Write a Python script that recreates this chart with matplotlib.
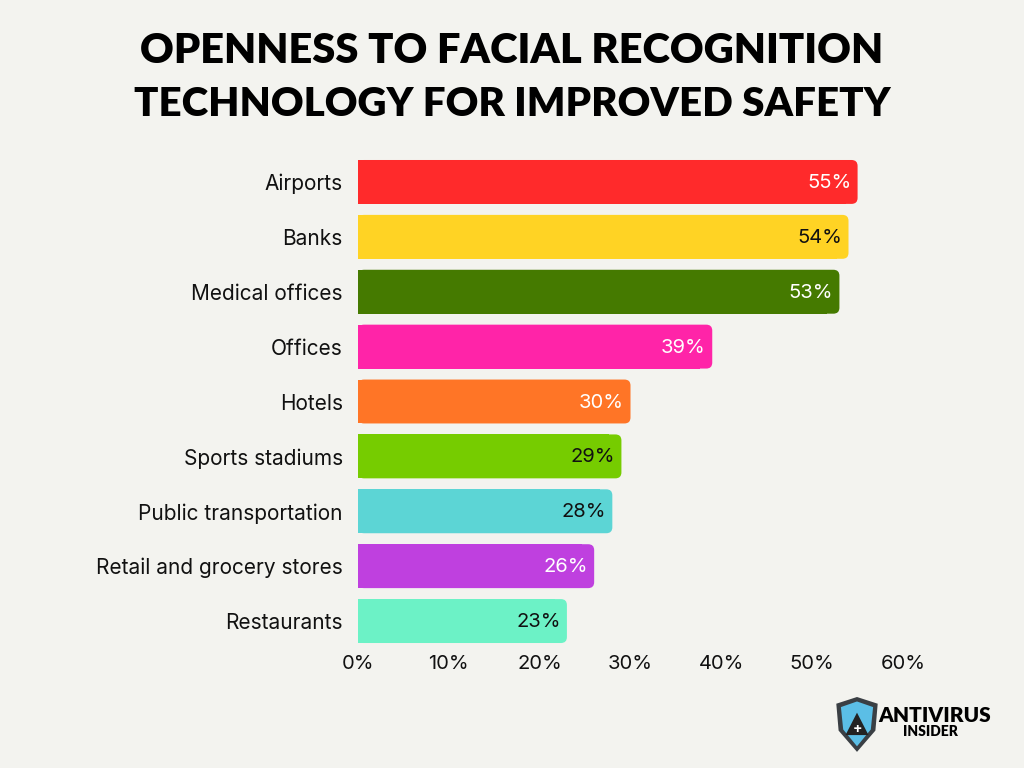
import matplotlib.pyplot as plt
from matplotlib.patches import FancyBboxPatch, Rectangle, Polygon

# data
categories = ['Airports', 'Banks', 'Medical offices', 'Offices', 'Hotels',
              'Sports stadiums', 'Public transportation',
              'Retail and grocery stores', 'Restaurants']
values = [55, 54, 53, 39, 30, 29, 28, 26, 23]
colors = ['#FF2A2B', '#FFD324', '#457A00', '#FF24A8', '#FF7526',
          '#76CC00', '#5CD5D5', '#BF40DF', '#6CF2C6']
label_colors = ['white', '#111111', 'white', 'white', 'white',
                '#111111', '#111111', 'white', '#111111']
xticks = [0, 10, 20, 30, 40, 50, 60]

bg = '#F3F3EF'
plt.rcParams['font.family'] = ['Inter', 'DejaVu Sans']

fig = plt.figure(figsize=(10.24, 7.68), dpi=100, facecolor=bg)
ax = fig.add_axes([358 / 1024, 1 - 648.5 / 768, (903 - 358) / 1024, (648.5 - 154.5) / 768])
ax.set_facecolor(bg)

ax.set_xlim(0, 60)
ax.set_ylim(len(categories) - 0.5, -0.5)

# bars drawn invisibly to get geometry, then rounded on the right
bars = ax.barh(range(len(categories)), values, height=0.8, color='none')
aspect = (1 / 55) / (60 / 545)   # y units per px / x units per px
r = 6 * 60 / 545
for b, c, lc, v in zip(bars, colors, label_colors, values):
    x0, y0, w, h = b.get_x(), b.get_y(), b.get_width(), b.get_height()
    ax.add_patch(FancyBboxPatch((x0, y0), w, h,
                                boxstyle=f'round,pad=0,rounding_size={r}',
                                mutation_aspect=aspect, fc=c, ec='none'))
    ax.add_patch(Rectangle((x0, y0), w - 2 * r, h, fc=c, ec='none'))
    ax.text(w - 0.7, y0 + h / 2 + 0.02, f'{v}%', ha='right', va='center',
            fontsize=14.5, color=lc)

ax.set_yticks(range(len(categories)))
ax.set_yticklabels(categories, fontsize=15, color='#111111')
ax.set_xticks(xticks)
ax.set_xticklabels([f'{t}%' for t in xticks], fontsize=14.5, color='#111111')
ax.tick_params(axis='both', length=0)
ax.tick_params(axis='y', pad=11)
ax.tick_params(axis='x', pad=5)
for s in ax.spines.values():
    s.set_visible(False)

# title
fig.text(0.5, 1 - 51 / 768, 'OPENNESS TO FACIAL RECOGNITION', ha='center', va='center',
         fontsize=30, fontweight='heavy', family=['Lato', 'DejaVu Sans'], color='black')
fig.text(0.5, 1 - 105 / 768, 'TECHNOLOGY FOR IMPROVED SAFETY', ha='center', va='center',
         fontsize=29, fontweight='heavy', family=['Lato', 'DejaVu Sans'], color='black')

# logo
lax = fig.add_axes([834 / 1024, 1 - 753 / 768, 46 / 1024, 56 / 768])
lax.set_xlim(0, 40)
lax.set_ylim(0, 50)
lax.axis('off')
lax.add_patch(Polygon([(2, 44), (20, 50), (38, 44), (36, 20), (20, 1), (4, 20)],
                      closed=True, fc='#3A3F44', ec='none'))
lax.add_patch(Polygon([(6, 41), (20, 46), (34, 41), (32, 21), (20, 6), (8, 21)],
                      closed=True, fc='#5BBEE6', ec='none'))
lax.add_patch(Polygon([(20, 36), (30, 16), (10, 16)], closed=True, fc='#222222', ec='none'))
lax.text(20, 21, '+', ha='center', va='center', fontsize=10, fontweight='bold', color='white')
fig.text(935 / 1024, 1 - 716 / 768, 'ANTIVIRUS', ha='center', va='center',
         fontsize=15, fontweight='heavy', color='black', family=['Lato', 'DejaVu Sans'])
fig.text(930 / 1024, 1 - 731 / 768, 'INSIDER', ha='center', va='center',
         fontsize=10, fontweight='heavy', color='black', family=['Lato', 'DejaVu Sans'])

fig.savefig('out.png', dpi=100, facecolor=bg)
